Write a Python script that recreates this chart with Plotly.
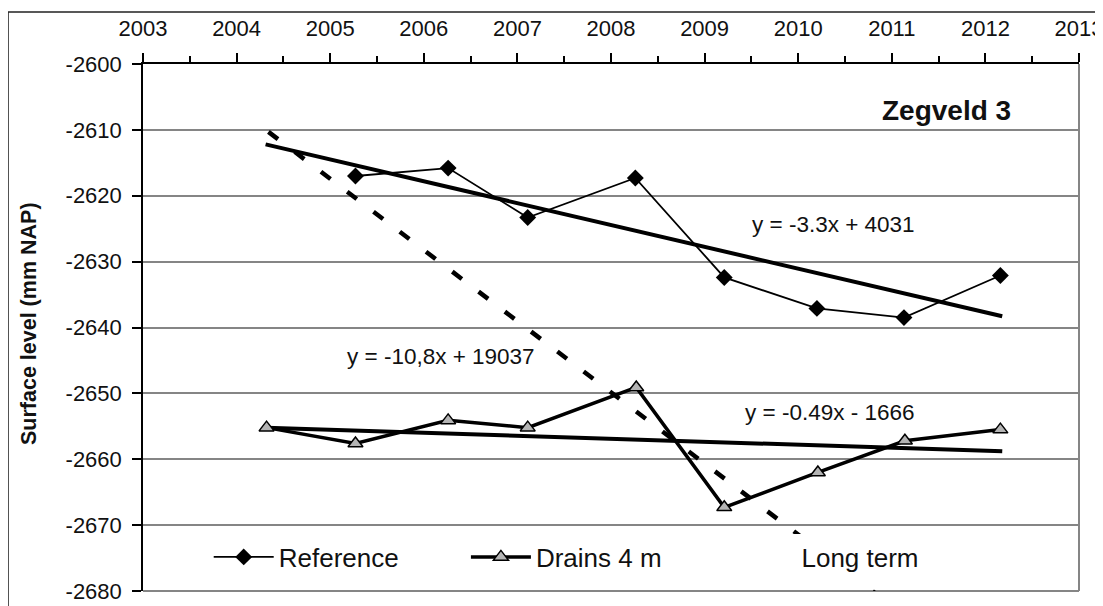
import plotly.graph_objects as go

# ---- data ----
ref_years = [2005.27, 2006.26, 2007.11, 2008.26, 2009.21, 2010.20, 2011.13, 2012.16]
ref_level = [-2617.0, -2615.8, -2623.3, -2617.3, -2632.4, -2637.1, -2638.5, -2632.1]

drain_years = [2004.32, 2005.27, 2006.26, 2007.11, 2008.27, 2009.21, 2010.21, 2011.14, 2012.16]
drain_level = [-2655.2, -2657.6, -2654.1, -2655.2, -2649.1, -2667.3, -2662.0, -2657.2, -2655.5]

ref_trend_years = [2004.31, 2012.18]
ref_trend_level = [-2612.2, -2638.3]

drain_trend_years = [2004.32, 2012.18]
drain_trend_level = [-2655.2, -2658.8]

long_term_years = [2004.34, 2012.18]
long_term_level = [-2610.3, -2695.0]

x_ticks = list(range(2003, 2014))
y_ticks = list(range(-2680, -2599, 10))

eq_ref = "y = -3.3x + 4031"
eq_long = "y = -10,8x + 19037"
eq_drain = "y = -0.49x - 1666"
title_text = "Zegveld 3"
y_title = "Surface level (mm NAP)"

FONT = "Liberation Sans, Arial, sans-serif"
GRID = "#858585"

fig = go.Figure()

# trend lines
fig.add_trace(go.Scatter(x=ref_trend_years, y=ref_trend_level, mode="lines",
                         line=dict(color="black", width=4), showlegend=False, hoverinfo="skip"))
fig.add_trace(go.Scatter(x=drain_trend_years, y=drain_trend_level, mode="lines",
                         line=dict(color="black", width=4), showlegend=False, hoverinfo="skip"))
fig.add_trace(go.Scatter(x=long_term_years, y=long_term_level, mode="lines",
                         line=dict(color="black", width=4.5, dash="12px,21px"),
                         showlegend=False, hoverinfo="skip"))

# data series
fig.add_trace(go.Scatter(x=ref_years, y=ref_level, mode="lines+markers", name="Reference",
                         line=dict(color="black", width=1.8),
                         marker=dict(symbol="diamond", size=13, color="black"),
                         legend="legend"))
fig.add_trace(go.Scatter(x=drain_years, y=drain_level, mode="lines+markers", name="Drains 4 m",
                         line=dict(color="black", width=3.5),
                         marker=dict(symbol="triangle-up", size=13, color="#b4b4b4",
                                     line=dict(color="black", width=1.5)),
                         legend="legend2"))
# legend-only entry for the long-term line (sample is blank in the reference)
fig.add_trace(go.Scatter(x=[None], y=[None], mode="lines", name="Long term",
                         line=dict(color="rgba(255,255,255,0)", width=4),
                         legend="legend3"))

# text annotations
fig.add_annotation(x=2012.295, y=-2607.1, text="<b>%s</b>" % title_text, showarrow=False,
                   xanchor="right", yanchor="middle", font=dict(size=28, color="#111", family=FONT))
fig.add_annotation(x=2010.38, y=-2624.3, text=eq_ref, showarrow=False,
                   font=dict(size=22.5, color="#111", family=FONT))
fig.add_annotation(x=2006.18, y=-2644.4, text=eq_long, showarrow=False,
                   font=dict(size=22.5, color="#111", family=FONT))
fig.add_annotation(x=2010.33, y=-2652.9, text=eq_drain, showarrow=False,
                   font=dict(size=22.5, color="#111", family=FONT))
fig.add_annotation(xref="paper", yref="paper", x=-0.1218, y=0.5085, text="<b>%s</b>" % y_title,
                   textangle=-90, showarrow=False, xanchor="center", yanchor="middle",
                   font=dict(size=21.5, color="#111", family=FONT))

# right and bottom gray borders of the plot area, outer frame
fig.add_shape(type="line", xref="paper", yref="paper", x0=1, x1=1, y0=0, y1=1,
              line=dict(color=GRID, width=2), layer="below")
fig.add_shape(type="line", xref="paper", yref="paper", x0=0, x1=1, y0=0, y1=0,
              line=dict(color=GRID, width=2), layer="below")
fig.add_shape(type="rect", xref="paper", yref="paper", x0=-0.1442, x1=1.06, y0=-0.08, y1=1.0987,
              line=dict(color="#222", width=1.5), layer="below")

leg_common = dict(orientation="h", yanchor="middle", xanchor="left", y=0.0645,
                  bgcolor="white", borderwidth=0, itemwidth=60,
                  font=dict(size=26, color="#111", family=FONT))

fig.update_layout(
    width=1103, height=606,
    margin=dict(l=135, r=32, t=56, b=23, autoexpand=False),
    paper_bgcolor="white", plot_bgcolor="white",
    font=dict(family=FONT, color="#111"),
    legend=dict(x=0.0702, **leg_common),
    legend2=dict(x=0.345, **leg_common),
    legend3=dict(x=0.6287, **leg_common),
    xaxis=dict(side="top", range=[2003, 2013], tickmode="array", tickvals=x_ticks,
               ticktext=[str(v) for v in x_ticks], automargin=False,
               ticks="outside", ticklen=9, tickwidth=1.5, tickcolor="black",
               minor=dict(tickmode="linear", tick0=2003, dtick=0.5, ticks="outside",
                          ticklen=6, tickwidth=1.5, tickcolor="black", showgrid=False),
               showline=True, linecolor="black", linewidth=1.5, showgrid=False, zeroline=False,
               tickfont=dict(size=22, color="#111", family=FONT), ticklabelstandoff=8),
    yaxis=dict(range=[-2680, -2600], tickmode="array", tickvals=y_ticks,
               ticktext=[str(v) for v in y_ticks], automargin=False,
               ticks="outside", ticklen=9, tickwidth=1.5, tickcolor="black",
               showline=True, linecolor="black", linewidth=1.5,
               showgrid=True, gridcolor=GRID, gridwidth=2, zeroline=False,
               tickfont=dict(size=22, color="#111", family=FONT), ticklabelstandoff=6),
)

fig.write_html("out.html")
